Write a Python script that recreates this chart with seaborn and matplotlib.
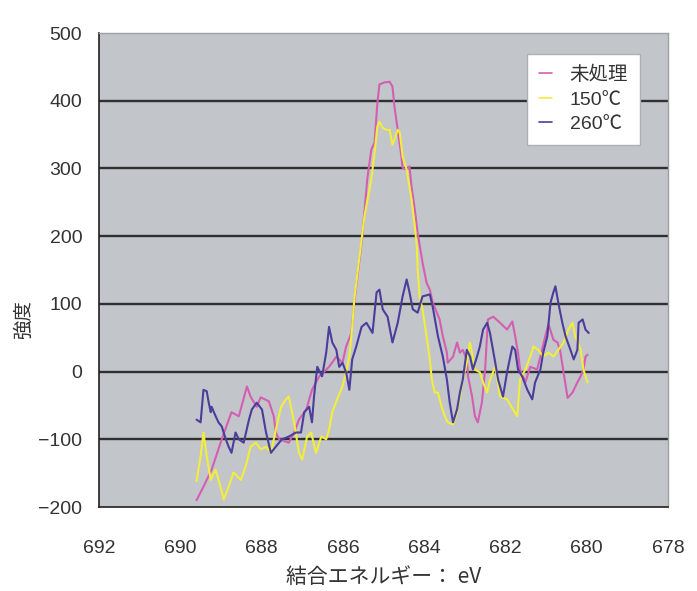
import numpy as np
import pandas as pd
import matplotlib
matplotlib.use("Agg")
import matplotlib.pyplot as plt
import seaborn as sns

# ---------------- data ----------------
series_names = ["未処理", "150℃", "260℃"]

pink_x = [689.60, 689.43, 689.23, 688.98, 688.74, 688.56, 688.36, 688.27, 688.12, 688.02,
          687.82, 687.70, 687.65, 687.57, 687.33, 687.20, 687.08, 686.90, 686.76, 686.58,
          686.34, 686.16, 686.01, 685.92, 685.79, 685.72, 685.52, 685.40, 685.30, 685.22,
          685.15, 685.10, 684.98, 684.85, 684.78, 684.73, 684.65, 684.56, 684.53, 684.43,
          684.36, 684.31, 684.23, 684.16, 684.04, 683.94, 683.86, 683.79, 683.62, 683.54,
          683.44, 683.42, 683.29, 683.19, 683.12, 683.05, 682.95, 682.92, 682.82, 682.75,
          682.68, 682.58, 682.50, 682.43, 682.30, 682.13, 681.96, 681.83, 681.76, 681.69,
          681.64, 681.51, 681.39, 681.22, 681.14, 681.02, 680.94, 680.82, 680.72, 680.65,
          680.57, 680.47, 680.35, 680.23, 680.15, 680.08, 680.03, 679.98]
pink_y = [-190, -170, -145, -100, -60, -66, -22, -37, -52, -38,
          -44, -66, -90, -100, -105, -90, -71, -56, -27, -7,
          7, 22, 13, 37, 57, 102, 200, 284, 328, 338,
          397, 424, 427, 428, 421, 391, 357, 318, 301, 298,
          303, 273, 239, 205, 161, 131, 121, 102, 77, 52,
          28, 13, 22, 43, 28, 32, 18, -7, -37, -66,
          -75, -46, 3, 77, 81, 72, 62, 74, 52, 28,
          3, -16, 7, 3, 22, 52, 70, 47, 43, 30,
          -1, -39, -31, -16, -7, 3, 22, 25]

yellow_x = [689.60, 689.50, 689.43, 689.35, 689.25, 689.13, 689.01, 688.93, 688.81, 688.69,
            688.51, 688.39, 688.27, 688.14, 688.02, 687.89, 687.77, 687.65, 687.52, 687.40,
            687.33, 687.20, 687.08, 687.00, 686.88, 686.78, 686.66, 686.53, 686.41, 686.34,
            686.26, 686.14, 686.01, 685.92, 685.84, 685.77, 685.72, 685.59, 685.47, 685.30,
            685.22, 685.15, 685.10, 685.02, 684.93, 684.85, 684.78, 684.73, 684.65, 684.60,
            684.53, 684.43, 684.31, 684.23, 684.18, 684.16, 684.11, 684.04, 683.94, 683.86,
            683.81, 683.74, 683.66, 683.57, 683.49, 683.42, 683.29, 683.19, 683.12, 683.05,
            682.95, 682.87, 682.75, 682.63, 682.55, 682.45, 682.38, 682.25, 682.13, 681.96,
            681.81, 681.71, 681.64, 681.51, 681.39, 681.31, 681.19, 681.07, 680.94, 680.82,
            680.70, 680.57, 680.45, 680.35, 680.28, 680.15, 680.08, 679.98]
yellow_y = [-162, -125, -90, -125, -160, -145, -170, -189, -170, -149,
            -160, -140, -111, -105, -115, -111, -120, -86, -52, -41,
            -37, -75, -120, -130, -96, -90, -120, -96, -100, -86,
            -60, -41, -22, -1, 22, 66, 106, 170, 229, 284,
            323, 362, 369, 360, 357, 357, 335, 343, 357, 353,
            318, 298, 254, 214, 185, 151, 111, 92, 52, 18,
            -12, -31, -31, -52, -66, -75, -78, -60, -37, -12,
            13, 43, 3, -1, -16, -31, -12, 7, -37, -41,
            -56, -66, -12, 3, 22, 37, 32, 22, 28, 22,
            32, 43, 62, 72, 52, 32, 3, -16]

blue_x = [689.60, 689.50, 689.43, 689.35, 689.30, 689.25, 689.23, 689.13, 689.06, 688.98,
          688.88, 688.81, 688.74, 688.64, 688.56, 688.44, 688.31, 688.24, 688.12, 687.99,
          687.89, 687.77, 687.65, 687.50, 687.33, 687.15, 687.03, 686.95, 686.83, 686.76,
          686.71, 686.63, 686.51, 686.41, 686.34, 686.26, 686.16, 686.09, 686.01, 685.92,
          685.84, 685.77, 685.67, 685.54, 685.42, 685.27, 685.17, 685.10, 685.02, 684.90,
          684.78, 684.65, 684.53, 684.43, 684.36, 684.28, 684.16, 684.04, 683.86, 683.79,
          683.66, 683.54, 683.44, 683.37, 683.29, 683.19, 683.12, 683.05, 682.95, 682.87,
          682.80, 682.70, 682.63, 682.55, 682.45, 682.38, 682.25, 682.18, 682.06, 681.96,
          681.83, 681.76, 681.69, 681.59, 681.46, 681.34, 681.27, 681.14, 681.07, 680.97,
          680.89, 680.82, 680.77, 680.70, 680.60, 680.52, 680.40, 680.32, 680.23, 680.20,
          680.10, 680.03, 679.95]
blue_y = [-71, -75, -27, -29, -46, -60, -52, -66, -75, -81,
          -100, -111, -120, -90, -100, -105, -71, -56, -46, -56,
          -90, -120, -111, -100, -96, -90, -90, -60, -52, -75,
          -37, 7, -7, 28, 66, 43, 32, 7, 13, -1,
          -27, 18, 37, 66, 72, 57, 117, 121, 92, 81,
          43, 72, 111, 136, 117, 92, 87, 111, 114, 96,
          52, 22, -12, -46, -75, -56, -31, -12, 32, 22,
          3, 22, 37, 62, 72, 57, 13, -12, -37, -1,
          37, 32, 3, -7, -27, -41, -16, 3, 28, 52,
          102, 117, 126, 102, 72, 52, 32, 18, 32, 72,
          77, 62, 57]

x_ticks = [692, 690, 688, 686, 684, 682, 680, 678]
y_ticks = [-200, -100, 0, 100, 200, 300, 400, 500]
x_label = "結合エネルギー： eV"
y_label = "強度"

colors = ["#d45fb2", "#f2ee3c", "#4b3d9c"]

# ---------------- table ----------------
frames = []
for name, xs, ys in zip(series_names, [pink_x, yellow_x, blue_x], [pink_y, yellow_y, blue_y]):
    frames.append(pd.DataFrame({"eV": xs, "強度": ys, "series": name}))
df = pd.concat(frames, ignore_index=True)

# ---------------- drawing ----------------
sns.set_theme(style="white")
plt.rcParams["font.family"] = ["Liberation Sans", "Noto Sans CJK JP", "DejaVu Sans"]

fig = plt.figure(figsize=(6.97, 5.91), dpi=100)
ax = fig.add_axes([99 / 697, 1 - 507 / 591, 569 / 697, 474 / 591])
ax.set_facecolor("#c2c5ca")

sns.lineplot(data=df, x="eV", y="強度", hue="series", hue_order=series_names,
             palette=colors, sort=False, estimator=None, units="series",
             linewidth=1.5, ax=ax)

ax.set_xlim(692, 678)
ax.set_ylim(-200, 500)
ax.set_xticks(x_ticks)
ax.set_yticks(y_ticks)
ax.set_xticklabels([str(t) for t in x_ticks])
ax.set_yticklabels([str(t).replace("-", "\u2212") for t in y_ticks])

for t in y_ticks[1:-1]:
    ax.axhline(t, color="#303030", lw=1.7, zorder=0.5)

for side in ["top", "right"]:
    ax.spines[side].set_color("#a0a0a0")
    ax.spines[side].set_linewidth(1.0)
for side in ["left", "bottom"]:
    ax.spines[side].set_color("#202020")
    ax.spines[side].set_linewidth(1.2)

ax.tick_params(axis="x", direction="in", length=5, width=1.2, color="#202020",
               labelsize=14, labelcolor="#333333", pad=24)
ax.tick_params(axis="y", direction="out", length=5, width=1.2, color="#202020",
               labelsize=14, labelcolor="#333333", pad=7)

ax.set_xlabel(x_label, fontsize=15, color="#333333", labelpad=6,
              family=["Noto Sans CJK JP", "DejaVu Sans"])
ax.set_ylabel(y_label, fontsize=14, color="#333333",
              family=["Noto Sans CJK JP", "DejaVu Sans"])
ax.yaxis.set_label_coords(-0.114, 0.395)

handles, labels = ax.get_legend_handles_labels()
for h in handles:
    h.set_linewidth(1.2)
leg = ax.legend(handles, labels, loc="upper left", bbox_to_anchor=(0.752, 0.955),
                frameon=True, fancybox=False, handlelength=0.7,
                handletextpad=0.9, borderpad=0.6, labelspacing=0.35,
                borderaxespad=0,
                prop={"family": ["Liberation Sans", "Noto Sans CJK JP", "DejaVu Sans"], "size": 14})
leg.get_frame().set_facecolor("white")
leg.get_frame().set_edgecolor("#b0b0b0")
leg.get_frame().set_alpha(1)
for txt in leg.get_texts():
    txt.set_color("#333333")

fig.savefig("out.png", dpi=100, facecolor="white")
